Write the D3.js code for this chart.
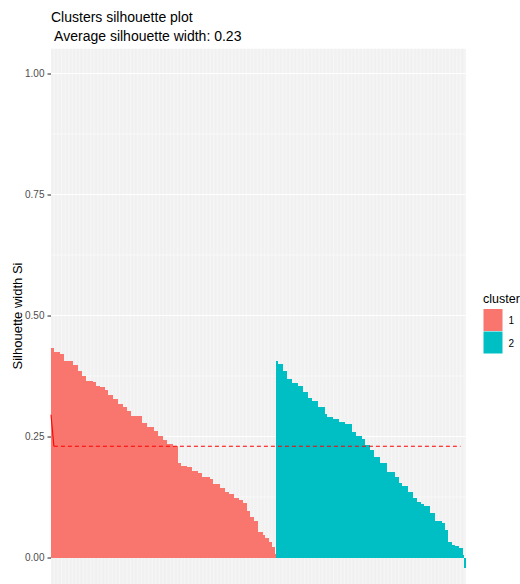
<!DOCTYPE html>
<html>
<head>
<meta charset="utf-8">
<script src="https://cdn.jsdelivr.net/npm/d3@7/dist/d3.min.js"></script>
<style>
  html, body { margin: 0; padding: 0; background: #ffffff; }
  svg { display: block; font-family: "Liberation Sans", Arial, sans-serif; }
</style>
</head>
<body>
<svg id="chart" width="520" height="584"></svg>
<script>
// Silhouette widths of every observation, sorted within each cluster
const clusterOneWidths = [
  0.432,0.432,
  0.425,0.425,0.425,0.425,
  0.420,0.420,0.420,
  0.407,0.407,0.407,0.407,0.407,
  0.405,0.405,
  0.398,0.398,0.398,
  0.386,0.386,0.386,
  0.375,0.375,0.375,
  0.365,0.365,0.365,0.365,0.365,
  0.363,0.363,
  0.354,0.354,0.354,
  0.352,0.352,0.352,0.352,
  0.346,0.346,
  0.336,0.336,0.336,0.336,
  0.327,0.327,0.327,
  0.317,0.317,0.317,0.317,
  0.312,0.312,0.312,
  0.303,0.303,0.303,
  0.293,0.293,0.293,0.293,0.293,0.293,0.293,0.293,
  0.278,0.278,0.278,
  0.270,0.270,0.270,0.270,0.270,
  0.261,0.261,0.261,
  0.252,0.252,0.252,0.252,
  0.243,0.243,0.243,
  0.234,0.234,0.234,0.234,
  0.231,0.231,0.231,0.231,
  0.195,0.195,
  0.190,0.190,0.190,0.190,
  0.186,0.186,0.186,0.186,
  0.179,0.179,0.179,0.179,
  0.174,0.174,0.174,
  0.167,0.167,0.167,0.167,0.167,0.167,
  0.162,0.162,
  0.151,0.151,0.151,0.151,0.151,
  0.143,0.143,0.143,0.143,
  0.136,0.136,0.136,
  0.131,0.131,0.131,
  0.122,0.122,0.122,0.122,
  0.119,0.119,0.119,
  0.112,0.112,0.112,
  0.097,0.097,
  0.083,0.083,0.083,
  0.076,0.076,0.076,
  0.052,0.052,0.052,
  0.046,0.046,
  0.040,0.040,0.040,
  0.033,0.033,
  0.022,0.022,
  0.007
];

const clusterTwoWidths = [
  0.405,
  0.399,0.399,0.399,0.399,
  0.385,0.385,0.385,
  0.368,0.368,0.368,
  0.361,0.361,0.361,0.361,0.361,
  0.355,0.355,0.355,
  0.343,0.343,0.343,0.343,
  0.329,0.329,0.329,
  0.324,0.324,0.324,0.324,
  0.310,0.310,0.310,0.310,0.310,
  0.296,0.296,
  0.291,0.291,0.291,0.291,
  0.286,0.286,0.286,0.286,
  0.279,0.279,0.279,0.279,0.279,
  0.276,0.276,0.276,0.276,0.276,
  0.260,0.260,0.260,
  0.251,0.251,0.251,0.251,
  0.244,0.244,
  0.232,0.232,0.232,0.232,
  0.222,0.222,0.222,
  0.208,0.208,0.208,0.208,
  0.196,0.196,0.196,0.196,0.196,
  0.177,0.177,0.177,0.177,0.177,0.177,
  0.167,0.167,0.167,
  0.155,0.155,
  0.148,0.148,0.148,0.148,
  0.136,0.136,0.136,0.136,
  0.124,0.124,0.124,
  0.115,0.115,0.115,
  0.110,0.110,
  0.107,0.107,0.107,0.107,
  0.091,0.091,0.091,0.091,
  0.075,0.075,0.075,0.075,0.075,
  0.072,0.072,
  0.057,0.057,
  0.033,0.033,0.033,
  0.026,0.026,
  0.024,0.024,0.024,
  0.019,0.019,0.019,
  0.005,
  -0.021
];

const clusterNames = ["1", "2"];
const clusterColors = ["#F8766D", "#00BFC4"];
const yTickValues = [0, 0.25, 0.5, 0.75, 1];
const yTickLabels = ["0.00", "0.25", "0.50", "0.75", "1.00"];
const yMinorValues = [0.125, 0.375, 0.625, 0.875];
const averageWidth = 0.23;
// the red guide: a short solid lead-in, then the dashed average line
const averageLead = [[-0.6, 0.295], [1.5, averageWidth]];
const averageSpan = [1.5, 296];

const titleLines = ["Clusters silhouette plot", " Average silhouette width: 0.23"];
const yTitle = "Silhouette width Si";
const legendTitle = "cluster";

// one row per observation, in plotting order
const rows = [];
[clusterOneWidths, clusterTwoWidths].forEach((arr, ci) => {
  arr.forEach(v => rows.push({ cluster: clusterNames[ci], width: v }));
});
rows.forEach((d, i) => d.pos = i);
const n = rows.length;

const svg = d3.select("#chart");
const panel = { left: 51, right: 465.5, top: 48.8, bottom: 592.4 };

// discrete x with 0.6 padding on both sides
const x = d3.scaleLinear().domain([-0.6, n - 1 + 0.6]).range([panel.left, panel.right]);
const yLo = Math.min(0, d3.min(rows, d => d.width));
const yHi = 1;
const pad = (yHi - yLo) * 0.05;
const y = d3.scaleLinear().domain([yLo - pad, yHi + pad]).range([panel.bottom, panel.top]);
const color = d3.scaleOrdinal().domain(clusterNames).range(clusterColors);

// panel background and grid
svg.append("rect")
  .attr("x", panel.left).attr("y", panel.top)
  .attr("width", panel.right - panel.left).attr("height", panel.bottom - panel.top)
  .attr("fill", "#EBEBEB");

const grid = svg.append("g");
grid.selectAll("line.minor").data(yMinorValues).join("line")
  .attr("x1", panel.left).attr("x2", panel.right)
  .attr("y1", d => y(d)).attr("y2", d => y(d))
  .attr("stroke", "#ffffff").attr("stroke-width", 0.55);
grid.selectAll("line.vx").data(rows).join("line")
  .attr("x1", d => x(d.pos)).attr("x2", d => x(d.pos))
  .attr("y1", panel.top).attr("y2", panel.bottom)
  .attr("stroke", "#ffffff").attr("stroke-width", 0.55);
grid.selectAll("line.major").data(yTickValues).join("line")
  .attr("x1", panel.left).attr("x2", panel.right)
  .attr("y1", d => y(d)).attr("y2", d => y(d))
  .attr("stroke", "#ffffff").attr("stroke-width", 1.1);

// bars (slightly overlapping neighbours, snapped to pixels so no seams show)
const bw = x(0.5) - x(-0.5);
svg.append("g").attr("shape-rendering", "crispEdges")
  .selectAll("rect").data(rows).join("rect")
  .attr("x", d => x(d.pos - 0.5) - 0.2)
  .attr("width", bw + 0.4)
  .attr("y", d => y(Math.max(0, d.width)))
  .attr("height", d => Math.abs(y(d.width) - y(0)))
  .attr("fill", d => color(d.cluster));

// average silhouette width guide
svg.append("line")
  .attr("x1", x(averageLead[0][0])).attr("y1", y(averageLead[0][1]))
  .attr("x2", x(averageLead[1][0])).attr("y2", y(averageLead[1][1]))
  .attr("stroke", "#FF0000").attr("stroke-width", 1.1);
svg.append("line")
  .attr("x1", x(averageSpan[0])).attr("x2", x(averageSpan[1]))
  .attr("y1", y(averageWidth)).attr("y2", y(averageWidth))
  .attr("stroke", "#FF0000").attr("stroke-width", 1.1)
  .attr("stroke-dasharray", "4,3");

// y axis
const yAxis = d3.axisLeft(y).tickValues(yTickValues)
  .tickFormat((d, i) => yTickLabels[i]).tickSize(3.5).tickPadding(3);
const ya = svg.append("g").attr("transform", `translate(${panel.left},0)`).call(yAxis);
ya.select(".domain").remove();
ya.selectAll(".tick line").attr("stroke", "#333333").attr("stroke-width", 1.1);
ya.selectAll(".tick text").attr("fill", "#4D4D4D")
  .style("font-size", "10px").style("font-family", "Liberation Sans, Arial, sans-serif");

svg.append("text")
  .attr("transform", `translate(21.5,316) rotate(-90)`)
  .attr("text-anchor", "middle")
  .style("font-size", "13px").attr("fill", "#000000")
  .text(yTitle);

// title
svg.append("g").selectAll("text").data(titleLines).join("text")
  .attr("x", panel.left).attr("y", (d, i) => 22 + i * 18.5)
  .attr("xml:space", "preserve")
  .style("white-space", "pre")
  .style("font-size", "14px").attr("fill", "#000000")
  .text(d => d);

// legend
const legend = svg.append("g").attr("transform", "translate(483,0)");
legend.append("text").attr("x", 0).attr("y", 303)
  .style("font-size", "12.5px").attr("fill", "#000000").text(legendTitle);
const keys = legend.selectAll("g.key").data(clusterNames).join("g")
  .attr("transform", (d, i) => `translate(0,${309 + i * 22.5})`);
keys.append("rect").attr("x", 0.5).attr("y", 0).attr("width", 19).attr("height", 22)
  .attr("fill", d => color(d));
keys.append("text").attr("x", 25.5).attr("y", 15)
  .style("font-size", "10px").attr("fill", "#000000").text(d => d);
</script>
</body>
</html>
